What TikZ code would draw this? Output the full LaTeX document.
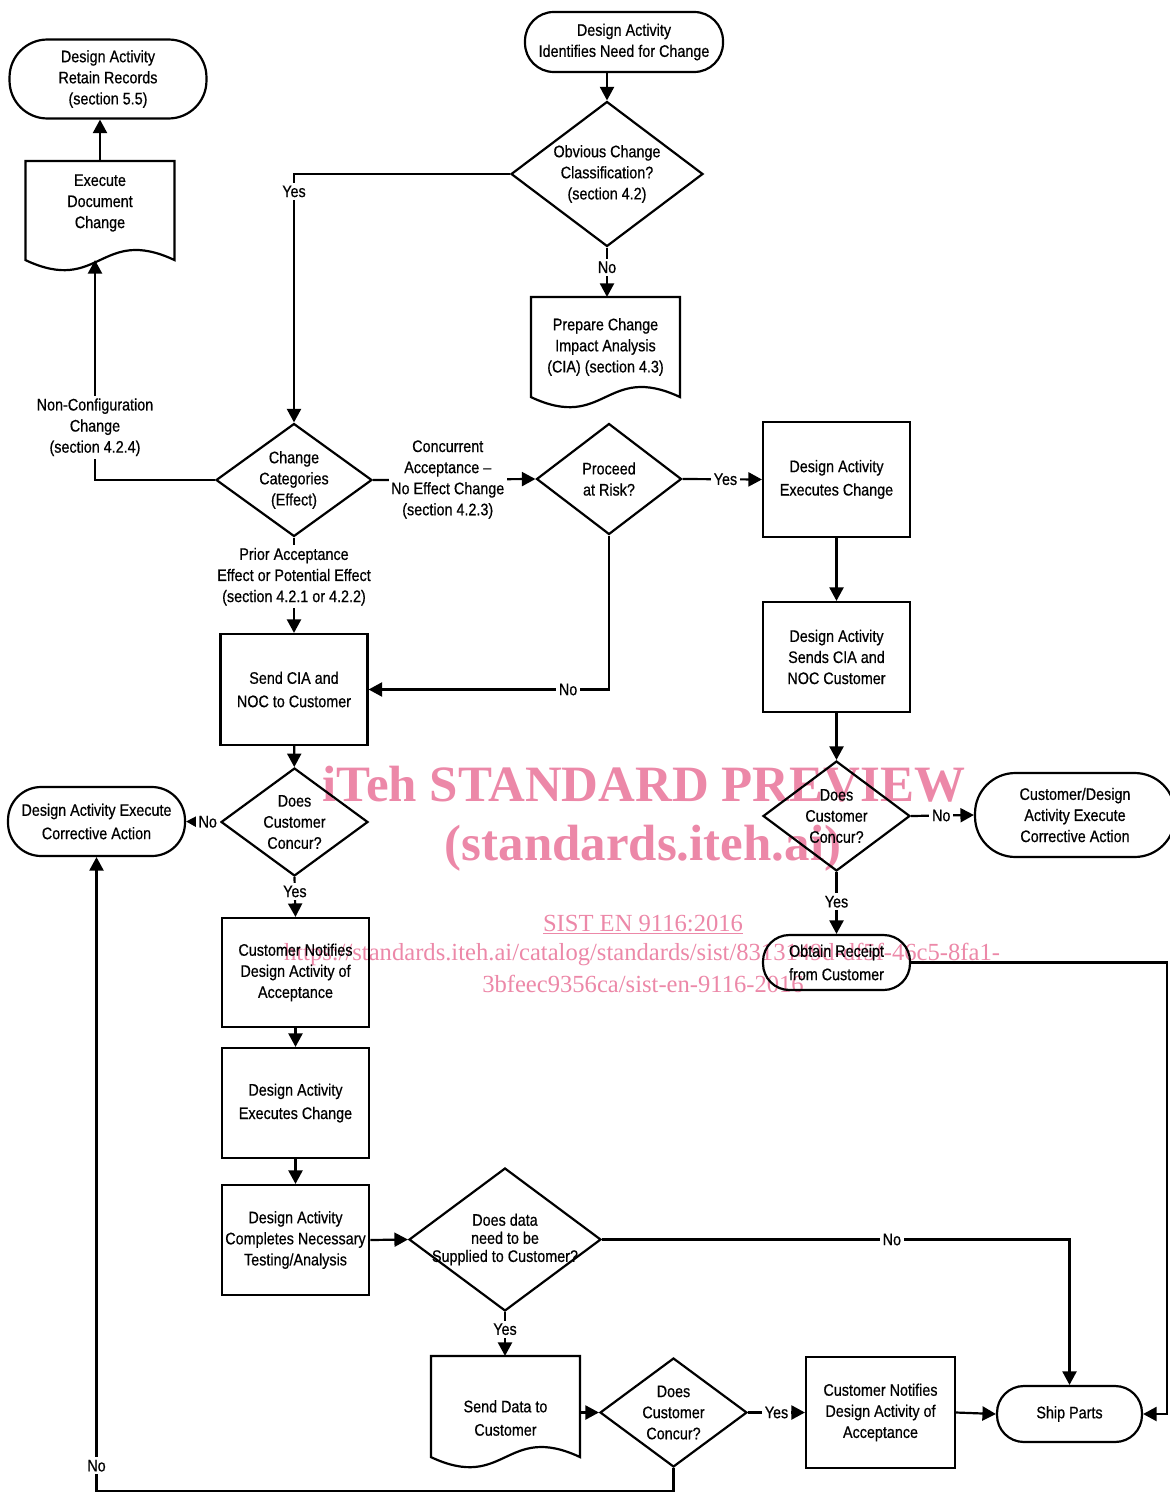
\documentclass[tikz,border=0pt]{standalone}
\usepackage{fontspec}
\setmainfont{Liberation Sans}[FakeStretch=0.86, FakeBold=0.6]
\newfontfamily\wmfont{Liberation Serif}
\usetikzlibrary{arrows.meta, shapes.geometric}
\definecolor{wmpink}{HTML}{EC88A8}
\tikzset{
  every picture/.style={line width=1.25pt},
  every node/.style={font=\fontsize{9.5}{12}\selectfont, align=center},
  term/.style={draw, rectangle, minimum height=#1, rounded corners=0.48*#1, inner sep=1pt},
  proc/.style={draw, rectangle, minimum width=2.94cm, inner sep=2pt},
  dec/.style={draw, diamond, inner sep=-0.5cm},
  docu/.style={rectangle, minimum width=2.94cm, inner sep=2pt},
  loose/.style={font=\fontsize{9.5}{13.3}\selectfont},
  tight/.style={font=\fontsize{9.5}{10.3}\selectfont},
  arr/.style={-{Triangle[length=0.27cm, width=0.28cm]}},
  lbl/.style={fill=white, inner sep=1.5pt},
  wmbig/.style={text=wmpink, font=\wmfont\bfseries\fontsize{29}{30}\selectfont, anchor=base},
  wmsmall/.style={text=wmpink, font=\wmfont\fontsize{14}{15}\selectfont, anchor=base},
}
% wavy bottom of a document box, #2 = level of the wave below the node
\newcommand{\docwave}[2]{%
  \draw (#1.north west) -- (#1.north east) -- ([yshift=#2]#1.south east)
    .. controls ([yshift=#2+0.7cm]#1.south) and ([yshift=#2-0.7cm]#1.south) .. ([yshift=#2]#1.south west) -- cycle;
  \coordinate (#1-wave) at ([yshift=#2]#1.south);}

\begin{document}
\begin{tikzpicture}[x=0.02cm, y=-0.02cm]
  \useasboundingbox (0,0) rectangle (1169,1493);
  % watermark
  \node[wmbig] (wmtitle) at (644,801) {iTeh STANDARD PREVIEW};
  \node[wmbig] (wmsite) at (643,860) {(standards.iteh.ai)};
  \node[wmsmall] (wmstd) at (643,931) {\underline{SIST EN 9116:2016}};
  \node[wmsmall] (wmurl) at (642,960) {https://standards.iteh.ai/catalog/standards/sist/8313149d-df5f-46c5-8fa1-};
  \node[wmsmall] (wmurlb) at (643,992) {3bfeec9356ca/sist-en-9116-2016};

  % top
  \node[term=1.2cm, minimum width=3.96cm] (start) at (624,42) {Design Activity\\Identifies Need for Change};
  \node[dec, minimum width=3.84cm, minimum height=2.9cm] (obvious) at (607,174) {Obvious Change\\Classification?\\(section 4.2)};
  \node[docu, minimum height=1.96cm] (ciadoc) at (605.5,347) {Prepare Change\\Impact Analysis\\(CIA) (section 4.3)};
  \docwave{ciadoc}{0cm}
  \node[term=1.58cm, minimum width=3.94cm] (retain) at (108,79) {Design Activity\\Retain Records\\(section 5.5)};
  \node[docu, minimum height=1.64cm] (execdoc) at (100,203) {Execute\\Document\\Change};
  \docwave{execdoc}{-0.3cm}

  % categories
  \node[dec, minimum width=3.12cm, minimum height=2.26cm] (cats) at (294,480) {Change\\Categories\\(Effect)};
  \node[dec, minimum width=2.9cm, minimum height=2.22cm] (proceed) at (609,479) {Proceed\\at Risk?};
  \node[proc, loose, minimum height=2.3cm] (execR) at (836.5,479.5) {Design Activity\\Executes Change};
  \node[proc, minimum height=2.2cm] (sendsR) at (836.5,657) {Design Activity\\Sends CIA and\\NOC Customer};
  \node[proc, loose, minimum height=2.22cm] (sendcia) at (294,689.5) {Send CIA and\\NOC to Customer};

  % customer concurrence
  \node[dec, minimum width=2.94cm, minimum height=2.16cm] (concurL) at (294.5,822) {Does\\Customer\\Concur?};
  \node[term=1.38cm, loose, minimum width=3.54cm] (corrL) at (96.5,821.5) {Design Activity Execute\\Corrective Action};
  \node[dec, minimum width=2.94cm, minimum height=2.2cm] (concurR) at (836.5,816) {Does\\Customer\\Concur?};
  \node[term=1.68cm, minimum width=4cm] (corrR) at (1075,815) {Customer/Design\\Activity Execute\\Corrective Action};
  \node[term=1.1cm, loose, minimum width=2.94cm] (receipt) at (836.5,962.5) {Obtain Receipt\\from Customer};

  % acceptance and testing
  \node[proc, minimum height=2.18cm] (notifyL) at (295.5,972.5) {Customer Notifies\\Design Activity of\\Acceptance};
  \node[proc, loose, minimum height=2.2cm] (execL) at (295.5,1103) {Design Activity\\Executes Change};
  \node[proc, minimum height=2.2cm] (testing) at (295.5,1240) {Design Activity\\Completes Necessary\\Testing/Analysis};
  \node[dec, tight, minimum width=3.84cm, minimum height=2.86cm] (supply) at (505,1239.5) {Does data\\need to be\\Supplied to Customer?};

  % bottom row
  \node[docu, loose, minimum height=2.44cm] (datadoc) at (505.5,1418) {Send Data to\\Customer};
  \docwave{datadoc}{0.46cm}
  \node[dec, minimum width=2.94cm, minimum height=2.18cm] (concurB) at (673.5,1412.5) {Does\\Customer\\Concur?};
  \node[proc, minimum width=2.98cm, minimum height=2.22cm] (notifyB) at (880.5,1412.5) {Customer Notifies\\Design Activity of\\Acceptance};
  \node[term=1.12cm, minimum width=2.9cm] (ship) at (1069.5,1414) {Ship Parts};

  % connectors
  \draw[arr] (obvious.north |- start.south) -- (obvious.north);
  \draw[arr] (obvious.south) -- node[lbl, pos=0.4] {No} (obvious.south |- ciadoc.north);
  \draw[arr] (obvious.west) -| node[lbl, pos=0.535] {Yes} (cats.north);
  \draw[arr] (cats.west) -| node[lbl, pos=0.62] {Non-Configuration\\Change\\(section 4.2.4)} ([xshift=-0.1cm]execdoc-wave);
  \draw[arr] (execdoc.north) -- (execdoc.north |- retain.south);
  \draw[arr] (cats.east) -- node[lbl, pos=0.46] {Concurrent\\Acceptance –\\No Effect Change\\(section 4.2.3)} (proceed.west);
  \draw[arr] (proceed.east) -- node[lbl, pos=0.54] {Yes} (execR.west);
  \draw[arr] (proceed.south) |- node[lbl, pos=0.585] {No} (sendcia.east);
  \draw[arr] (cats.south) -- node[lbl, pos=0.41] {Prior Acceptance\\Effect or Potential Effect\\(section 4.2.1 or 4.2.2)} (sendcia.north);
  \draw[arr] (execR) -- (sendsR);
  \draw[arr] (sendsR) -- (concurR);
  \draw[arr] (concurR.east) -- node[lbl, pos=0.48] {No} (corrR.west);
  \draw[arr] (concurR.south) -- node[lbl, pos=0.48] {Yes} (receipt.north);
  \draw[arr] (receipt.east) -- ++(5.12cm,0pt) |- (ship.east);
  \draw[arr] (sendcia) -- (concurL);
  \draw[arr] (concurL.west) -- node[lbl, pos=0.36] {No} (corrL.east);
  \draw[arr] (concurL.south) -- node[lbl, pos=0.36] {Yes} (notifyL.north);
  \draw[arr] (notifyL) -- (execL);
  \draw[arr] (execL) -- (testing);
  \draw[arr] (testing.east) -- (supply.west);
  \draw[arr] (supply.east) -| node[lbl, pos=0.31] {No} (ship.north);
  \draw[arr] (supply.south) -- node[lbl, pos=0.39] {Yes} (supply.south |- datadoc.north);
  \draw[arr] (concurB.west -| datadoc.east) -- (concurB.west);
  \draw[arr] (concurB.east) -- node[lbl, pos=0.5] {Yes} (notifyB.west);
  \draw[arr] (notifyB.east) -- (ship.west);
  \draw[arr] (concurB.south) -- ++(0pt,-0.46cm) -| node[lbl, pos=0.52] {No} (corrL.south);
\end{tikzpicture}
\end{document}
